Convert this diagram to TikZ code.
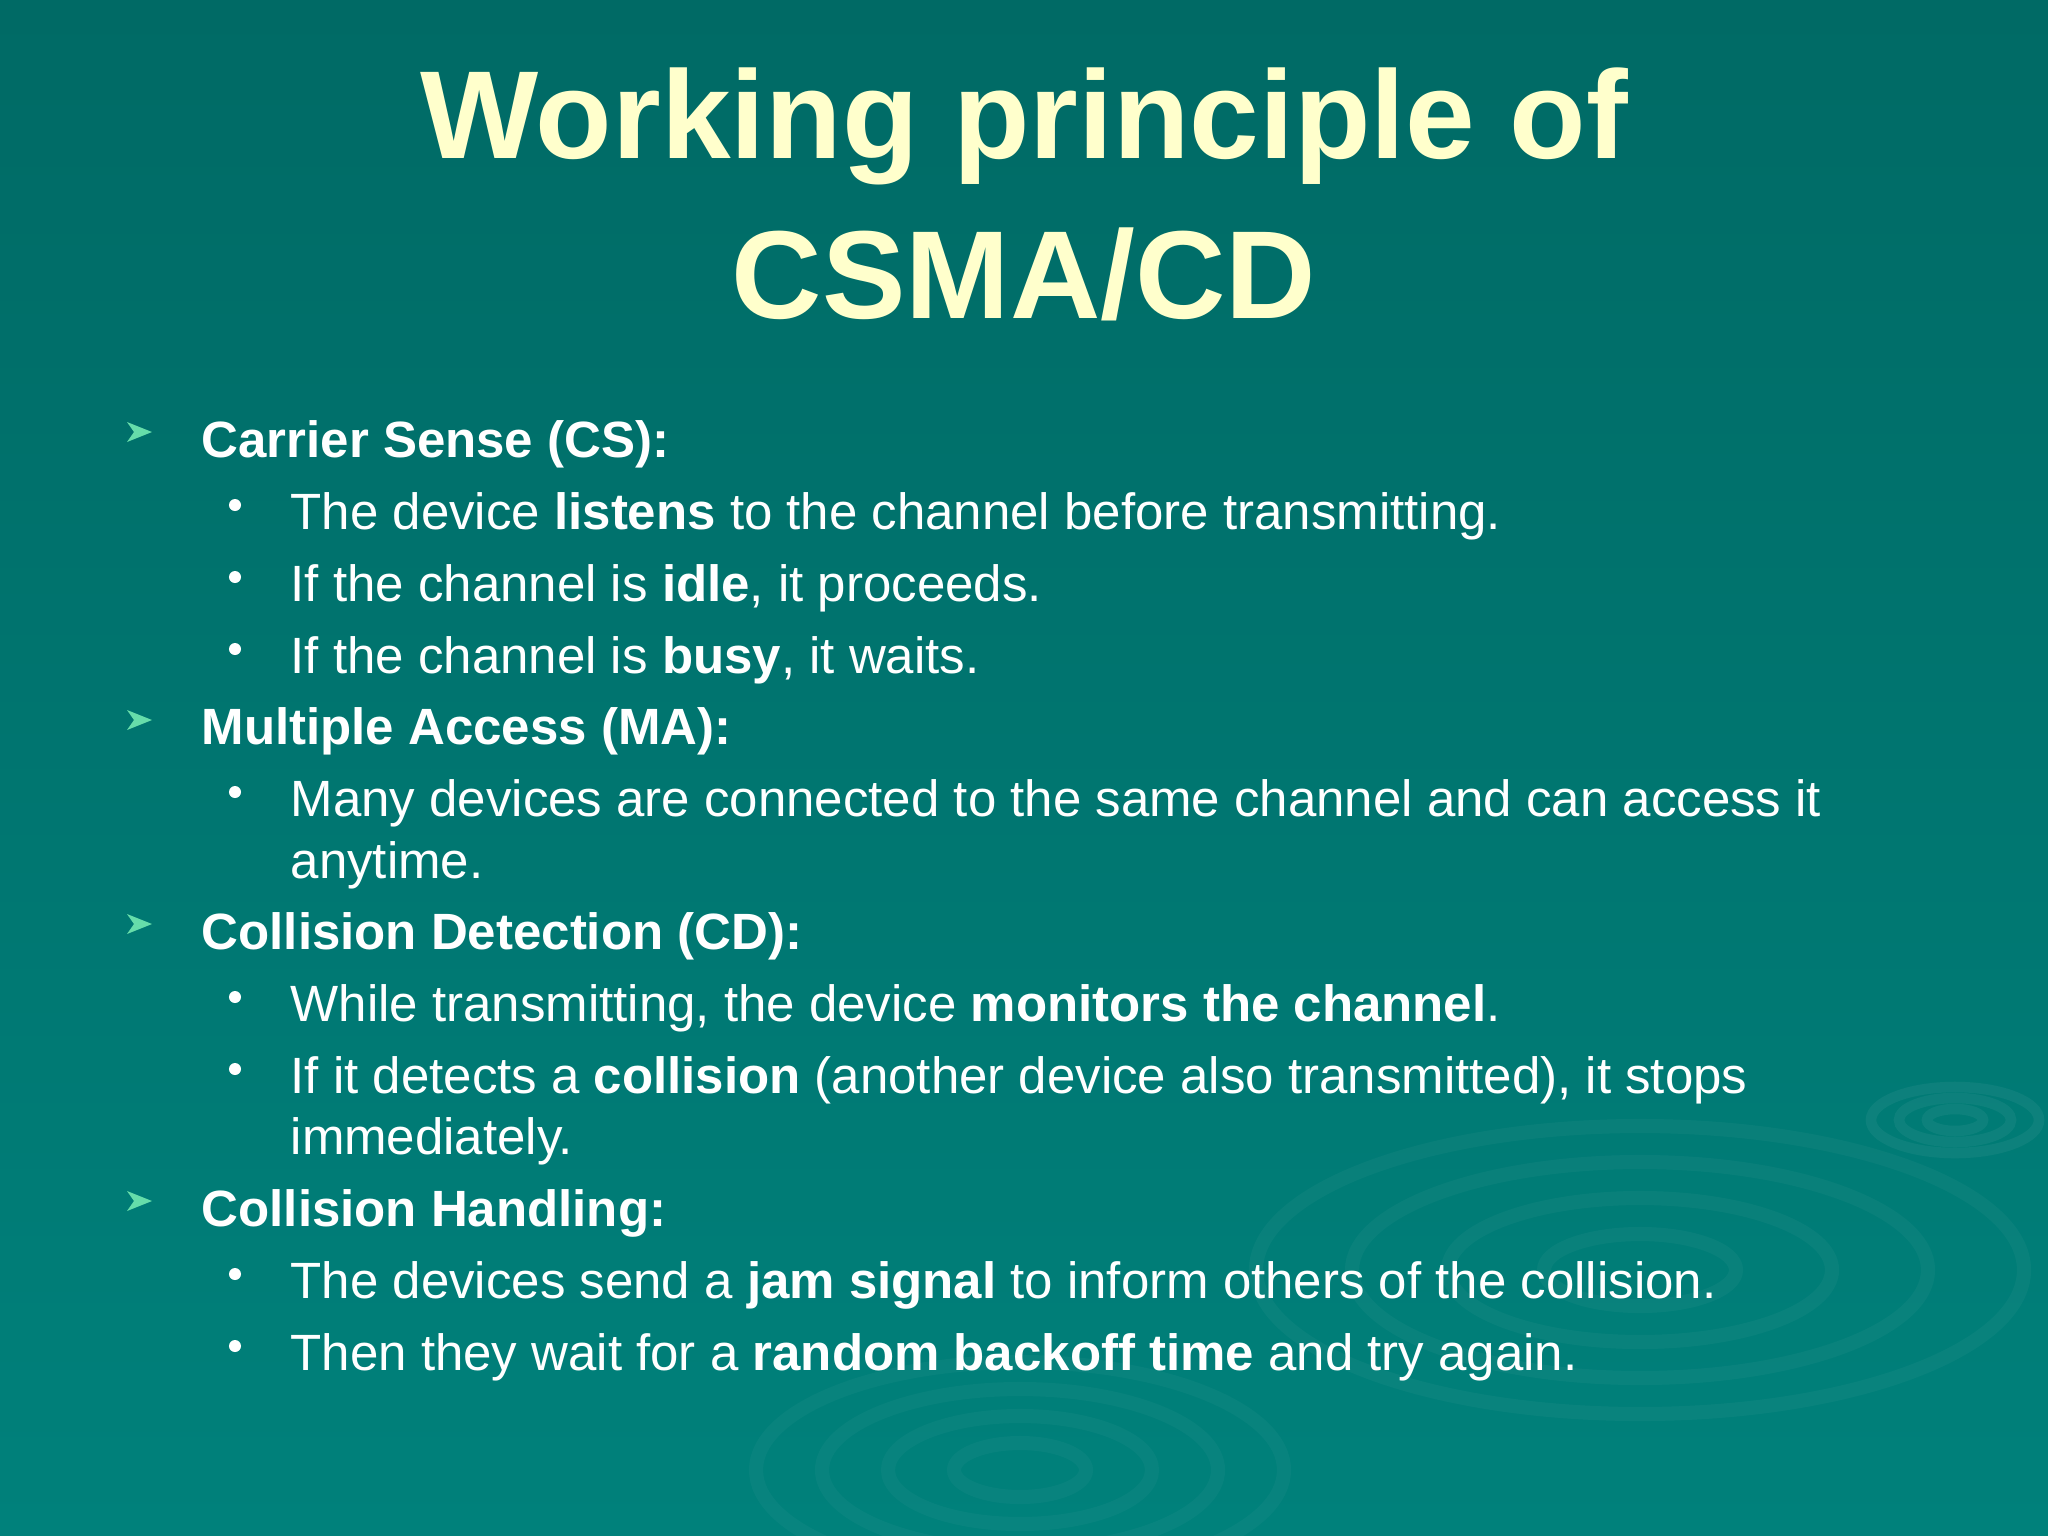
\documentclass[tikz,border=0pt]{standalone}
\usepackage{fontspec}
\setmainfont{Liberation Sans}
\begin{document}
\begin{tikzpicture}[x=0.01cm,y=-0.01cm,
  ttl/.style={text=title,font=\fontsize{35.6}{40}\selectfont\bfseries,inner sep=0},
  lvone/.style={text=white,font=\fontsize{14.5}{17}\selectfont\bfseries,anchor=west,inner sep=0},
  lvtwo/.style={text=white,font=\fontsize{14.5}{17}\selectfont,anchor=west,inner sep=0},
  dotb/.style={fill=white,circle,inner sep=0,minimum size=0.12cm}]
\definecolor{title}{HTML}{FFFFCC}
\definecolor{arrowgreen}{HTML}{66DDAA}
\definecolor{bgtop}{HTML}{006A65}
\definecolor{bgbot}{HTML}{00817B}
\shade[top color=bgtop,bottom color=bgbot] (0,0) rectangle (2048,1536);
\useasboundingbox (0,0) rectangle (2048,1536);
% faint ripples
\foreach \r in {60,120,180,240}{
  \draw[white,opacity=0.035,line width=4pt] (1640,1270) ellipse ({\r*1.6} and \r*0.6);
  \draw[white,opacity=0.03,line width=4pt] (1020,1470) ellipse ({\r*1.1} and \r*0.45);
}
\foreach \r in {20,40,60}{
  \draw[white,opacity=0.05,line width=3pt] (1955,1120) ellipse ({\r*1.4} and \r*0.55);
}
\node[ttl] (t1) at (1024,126) {Working principle of};
\node[ttl] (t2) at (1024,274) {CSMA/CD};
% level-1 arrows
\foreach \y in {432,720,924,1201}{
  \fill[arrowgreen] (127,\y-10) -- (152,\y) -- (127,\y+10) -- (134,\y) -- cycle;
}
\foreach \y in {505,577,649,792,997,1069,1274,1346}{
  \node[dotb] at (235,\y) {};
}
\node[lvone] (a) at (201,444) {Carrier Sense (CS):};
\node[lvtwo] (a1) at (290,516) {The device \textbf{listens} to the channel before transmitting.};
\node[lvtwo] (a2) at (290,588) {If the channel is \textbf{idle}, it proceeds.};
\node[lvtwo] (a3) at (290,660) {If the channel is \textbf{busy}, it waits.};
\node[lvone] (b) at (201,731) {Multiple Access (MA):};
\node[lvtwo] (b1) at (290,803) {Many devices are connected to the same channel and can access it};
\node[lvtwo] (b2) at (290,865) {anytime.};
\node[lvone] (c) at (201,936) {Collision Detection (CD):};
\node[lvtwo] (c1) at (290,1008) {While transmitting, the device \textbf{monitors the channel}.};
\node[lvtwo] (c2) at (290,1080) {If it detects a \textbf{collision} (another device also transmitted), it stops};
\node[lvtwo] (c3) at (290,1141) {immediately.};
\node[lvone] (d) at (201,1213) {Collision Handling:};
\node[lvtwo] (d1) at (290,1285) {The devices send a \textbf{jam signal} to inform others of the collision.};
\node[lvtwo] (d2) at (290,1357) {Then they wait for a \textbf{random backoff time} and try again.};
\end{tikzpicture}
\end{document}
